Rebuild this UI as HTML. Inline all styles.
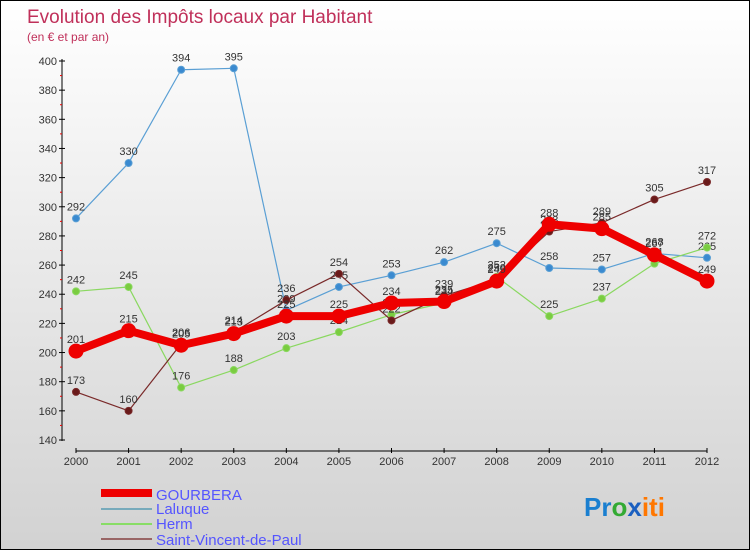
<!DOCTYPE html>
<html><head><meta charset="utf-8"><style>
body{margin:0}
#c{width:748px;height:548px;border:1px solid #000;background:linear-gradient(#fff,#d2d2d2);position:relative;overflow:hidden;font-family:"Liberation Sans",sans-serif}
</style></head><body>
<div id="c">
<svg id="s" width="748" height="548" style="position:absolute;left:0;top:0">
<text x="26" y="22" font-size="19" fill="#c0305a">Evolution des Impôts locaux par Habitant</text>
<text x="26" y="40" font-size="12" fill="#c0305a">(en € et par an)</text>
<g id="axes"></g><g id="series"></g>
<g>
<rect x="100" y="488" width="51" height="8" fill="#e00"/>
<text x="155" y="499" font-size="15" fill="#5555ff">GOURBERA</text>
<rect x="100" y="507" width="51" height="2" fill="#7ab"/>
<text x="155" y="513" font-size="15" fill="#5555ff">Laluque</text>
<rect x="100" y="522" width="51" height="2" fill="#8d6"/>
<text x="155" y="528" font-size="15" fill="#5555ff">Herm</text>
<rect x="100" y="537" width="51" height="2" fill="#966"/>
<text x="155" y="544" font-size="15" fill="#5555ff">Saint-Vincent-de-Paul</text>
</g>
<text x="583" y="515" font-size="26" font-weight="bold"><tspan fill="#1a7fd0">Pr</tspan><tspan fill="#3a3">o</tspan><tspan fill="#1a5fc0">x</tspan><tspan fill="#f70">iti</tspan></text>
</svg>
</div>
<script>
const years=[2000,2001,2002,2003,2004,2005,2006,2007,2008,2009,2010,2011,2012];
const yTicks=[140,160,180,200,220,240,260,280,300,320,340,360,380,400];
const gourbera=[201,215,205,213,225,225,234,235,249,288,285,267,249];
const laluque=[292,330,394,395,229,245,253,262,275,258,257,268,265];
const herm=[242,245,176,188,203,214,226,234,252,225,237,261,272];
const svdp=[173,160,206,214,236,254,222,239,250,283,289,305,317];
const NS='http://www.w3.org/2000/svg';
const x=i=>75+i*(706-75)/12;
const y=v=>439-(v-140)*(439-60)/260;
function mk(t,a,p){const e=document.createElementNS(NS,t);for(const k in a)e.setAttribute(k,a[k]);p.appendChild(e);return e;}
const ax=document.getElementById('axes'),sg=document.getElementById('series');
let l=mk('line',{x1:61,y1:58,x2:61,y2:440,stroke:'#000'},ax);


for(let v=150;v<400;v+=20){mk('line',{x1:59,x2:61,y1:y(v),y2:y(v),stroke:'#e00'},ax);}
yTicks.forEach(v=>{mk('line',{x1:58,x2:64,y1:y(v),y2:y(v),stroke:'#000'},ax);
const t=mk('text',{x:56,y:y(v)+4,'font-size':11,'text-anchor':'end',fill:'#333'},ax);t.textContent=v;

});
l=mk('line',{x1:75,y1:450,x2:706,y2:450,stroke:'#000'},ax);


years.forEach((yr,i)=>{mk('line',{x1:x(i),x2:x(i),y1:447,y2:452,stroke:'#000'},ax);
const t=mk('text',{x:x(i),y:464,'font-size':11,'text-anchor':'middle',fill:'#333'},ax);t.textContent=yr;

});
function series(d,col,dot,w,r,name){const g=mk('g',{},sg);


mk('polyline',{points:d.map((v,i)=>x(i)+','+y(v)).join(' '),fill:'none',stroke:col,'stroke-width':w,'stroke-linejoin':'round'},g);
d.forEach((v,i)=>{const c=mk('circle',{cx:x(i),cy:y(v),r:r,fill:dot,stroke:col},g);


const t=mk('text',{x:x(i),y:y(v)-8,'font-size':11,'text-anchor':'middle',fill:'#333'},g);t.textContent=v;

});}
series(laluque,'#5a9fd4','#3a8ad0',1.2,3.5,'laluque');
series(herm,'#8ad860','#7acc40',1.2,3.5,'herm');
series(svdp,'#7a2a2a','#6a1a1a',1.2,3.5,'svdp');
series(gourbera,'#ee0000','#ee0000',8,7,'gourbera');
</script>
</body></html>
